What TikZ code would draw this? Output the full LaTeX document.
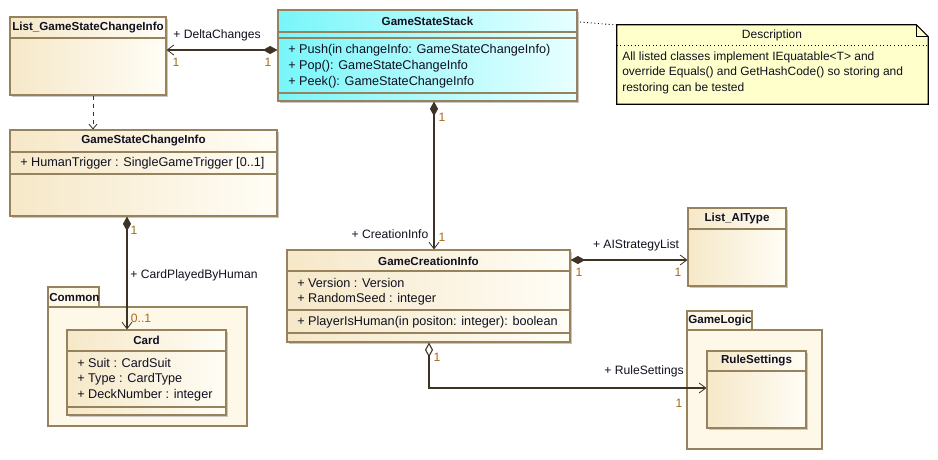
\documentclass[tikz,border=0pt]{standalone}
\usepackage{fontspec}
\setmainfont{Liberation Sans}
\usetikzlibrary{arrows.meta,fit,shadows}
\definecolor{clsL}{RGB}{246,232,200}
\definecolor{clsR}{RGB}{255,253,246}
\definecolor{clsB}{RGB}{150,130,92}
\definecolor{pkgF}{RGB}{254,248,232}
\definecolor{stkL}{RGB}{120,246,250}
\definecolor{stkR}{RGB}{232,255,255}
\definecolor{noteF}{RGB}{255,255,204}
\definecolor{txt}{RGB}{16,16,32}
\definecolor{multc}{RGB}{170,105,25}
\definecolor{connc}{RGB}{62,50,36}
\tikzset{
  fnt/.style={font=\fontsize{9.5}{11}\selectfont},
  lfnt/.style={font=\fontsize{9.1}{11}\selectfont},
  nfnt/.style={font=\fontsize{9}{11}\selectfont},
  cls/.style={draw=clsB, line width=0.8pt, left color=clsL, right color=clsR, inner sep=0pt,
    drop shadow={shadow xshift=1.3pt, shadow yshift=-1.3pt, fill=black!22, opacity=1}},
  stk/.style={cls, left color=stkL, right color=stkR},
  pkg/.style={draw=clsB, line width=0.8pt, fill=pkgF, inner sep=0pt},
  sepline/.style={draw=clsB, line width=0.8pt},
  ttl/.style={font=\bfseries\fontsize{8.7}{10}\selectfont, text=txt, inner sep=0pt},
  attr/.style={fnt, text=txt, anchor=west, inner sep=0pt},
  nattr/.style={nfnt, text=txt, anchor=west, inner sep=0pt},
  lbl/.style={lfnt, text=txt, inner sep=0pt},
  mult/.style={lfnt, text=multc, inner sep=0pt},
  conn/.style={draw=connc, line width=0.8pt},
  compo/.style={{Diamond[length=11pt,width=6pt,fill=connc]}-{Straight Barb[length=5pt,width=7.5pt,line width=0.6pt]}},
  aggr/.style={{Diamond[length=11pt,width=6pt,open,fill=white]}-{Straight Barb[length=5pt,width=7.5pt,line width=0.6pt]}},
}
\begin{document}
\begin{tikzpicture}[x=0.75pt,y=-0.75pt]
\useasboundingbox[fill=white] (0,0) rectangle (938,460);

% ---------- packages ----------
\node[pkg, fit={(48,287) (99,307)}] (comTab) {};
\node[pkg, fit={(48,307) (247,426)}] (comBody) {};
\node[ttl, anchor=west] (comLbl) at (49,297.5) {Common};
\node[pkg, fit={(687,311) (752,330)}] (glTab) {};
\node[pkg, fit={(687,330) (822,449)}] (glBody) {};
\node[ttl, anchor=west] (glLbl) at (688,320.5) {GameLogic};

% ---------- List_GameStateChangeInfo ----------
\node[cls, fit={(10,17) (166,95)}] (lgsci) {};
\draw[sepline] (lgsci.west |- 0,38) -- (lgsci.east |- 0,38);
\node[ttl] (lgsciT) at (88,27.5) {List\_GameStateChangeInfo};

% ---------- GameStateStack ----------
\node[stk, fit={(278,10) (577,101)}] (gss) {};
\draw[sepline] (gss.west |- 0,32) -- (gss.east |- 0,32);
\draw[sepline] (gss.west |- 0,38) -- (gss.east |- 0,38);
\draw[sepline] (gss.west |- 0,93) -- (gss.east |- 0,93);
\node[ttl] (gssT) at (427.5,21) {GameStateStack};
\node[attr] (gssA1) at (288,50) {+ Push(in changeInfo: GameStateChangeInfo)};
\node[attr] (gssA2) at (288,66) {+ Pop(): GameStateChangeInfo};
\node[attr] (gssA3) at (288,82) {+ Peek(): GameStateChangeInfo};

% ---------- Note ----------
\node[inner sep=0pt, fit={(617,25) (928,104)}] (note) {};
\draw[fill=noteF, line width=0.8pt] (note.north west) -- ([xshift=-9pt]note.north east) -- ([yshift=-9pt]note.north east) -- (note.south east) -- (note.south west) -- cycle;
\draw[line width=0.6pt] ([xshift=-9pt]note.north east) -- ([xshift=-9pt,yshift=-9pt]note.north east) -- ([yshift=-9pt]note.north east);
\draw[line width=0.7pt, dotted] (note.west |- 0,45.5) -- (note.east |- 0,45.5);
\node[lbl, nfnt] (noteT) at (772,35) {Description};
\node[nattr] (noteA1) at (622,57) {All listed classes implement IEquatable<T> and};
\node[nattr] (noteA2) at (622,72.5) {override Equals() and GetHashCode() so storing and};
\node[nattr] (noteA3) at (622,88) {restoring can be tested};
\coordinate (gssR) at (580,22);
\draw[line width=0.7pt, dotted] (gssR) -- (note.west |- 0,25);

% ---------- GameStateChangeInfo ----------
\node[cls, fit={(10,130) (277,216)}] (gsci) {};
\draw[sepline] (gsci.west |- 0,152) -- (gsci.east |- 0,152);
\draw[sepline] (gsci.west |- 0,174) -- (gsci.east |- 0,174);
\node[ttl] (gsciT) at (143.5,141) {GameStateChangeInfo};
\node[attr] (gsciA1) at (20,163) {+ HumanTrigger : SingleGameTrigger [0..1]};

% ---------- Card ----------
\node[cls, fit={(67,330) (226,415)}] (card) {};
\draw[sepline] (card.west |- 0,351) -- (card.east |- 0,351);
\draw[sepline] (card.west |- 0,407) -- (card.east |- 0,407);
\node[ttl] (cardT) at (146.5,340.5) {Card};
\node[attr] (cardA1) at (77,363) {+ Suit : CardSuit};
\node[attr] (cardA2) at (77,379) {+ Type : CardType};
\node[attr] (cardA3) at (77,395) {+ DeckNumber : integer};

% ---------- GameCreationInfo ----------
\node[cls, fit={(287,250) (570,342)}] (gci) {};
\draw[sepline] (gci.west |- 0,271) -- (gci.east |- 0,271);
\draw[sepline] (gci.west |- 0,310) -- (gci.east |- 0,310);
\draw[sepline] (gci.west |- 0,333) -- (gci.east |- 0,333);
\node[ttl] (gciT) at (428.5,261) {GameCreationInfo};
\node[attr] (gciA1) at (297,283) {+ Version : Version};
\node[attr] (gciA2) at (297,299) {+ RandomSeed : integer};
\node[attr] (gciA3) at (297,322) {+ PlayerIsHuman(in positon: integer): boolean};

% ---------- List_AIType ----------
\node[cls, fit={(688,208) (786,286)}] (lai) {};
\draw[sepline] (lai.west |- 0,229) -- (lai.east |- 0,229);
\node[ttl] (laiT) at (737,218.5) {List\_AIType};

% ---------- RuleSettings ----------
\node[cls, fit={(707,351) (806,428)}] (rs) {};
\draw[sepline] (rs.west |- 0,371) -- (rs.east |- 0,371);
\node[ttl] (rsT) at (756.5,361) {RuleSettings};

% ---------- connectors ----------
% DeltaChanges
\draw[conn, compo] (gss.west |- 0,50) -- (lgsci.east |- 0,50);
\node[lbl] (dcL) at (217,35) {+ DeltaChanges};
\node[mult] (dcM1) at (176,62) {1};
\node[mult] (dcM2) at (268,62) {1};

% dependency
\draw[conn, dashed, line width=0.6pt, -{Straight Barb[length=3.5pt,width=6pt,line width=0.6pt]}] (lgsci.south -| 93,0) -- (gsci.north -| 93,0);

% CreationInfo
\draw[conn, compo] (gss.south -| 434,0) -- (gci.north -| 434,0);
\node[mult] (ciM1) at (442,117) {1};
\node[lbl] (ciL) at (390,234) {+ CreationInfo};
\node[mult] (ciM2) at (442,237) {1};

% CardPlayedByHuman
\draw[conn, compo] (gsci.south -| 127,0) -- (card.north -| 127,0);
\node[mult] (cpM1) at (134,230) {1};
\node[lbl] (cpL) at (194,275) {+ CardPlayedByHuman};
\node[mult] (cpM2) at (141,318) {0..1};

% AIStrategyList
\draw[conn, compo] (gci.east |- 0,260) -- (lai.west |- 0,260);
\node[lbl] (aiL) at (636,245) {+ AIStrategyList};
\node[mult] (aiM1) at (579,272) {1};
\node[mult] (aiM2) at (678,272) {1};

% RuleSettings
\coordinate (rsBend) at (429,388);
\draw[conn, aggr] (gci.south -| 429,0) -- (rsBend) -- (rs.west |- 0,388);
\node[mult] (rsM1) at (437,357) {1};
\node[lbl] (rsL) at (644,371) {+ RuleSettings};
\node[mult] (rsM2) at (679,403) {1};
\end{tikzpicture}
\end{document}
